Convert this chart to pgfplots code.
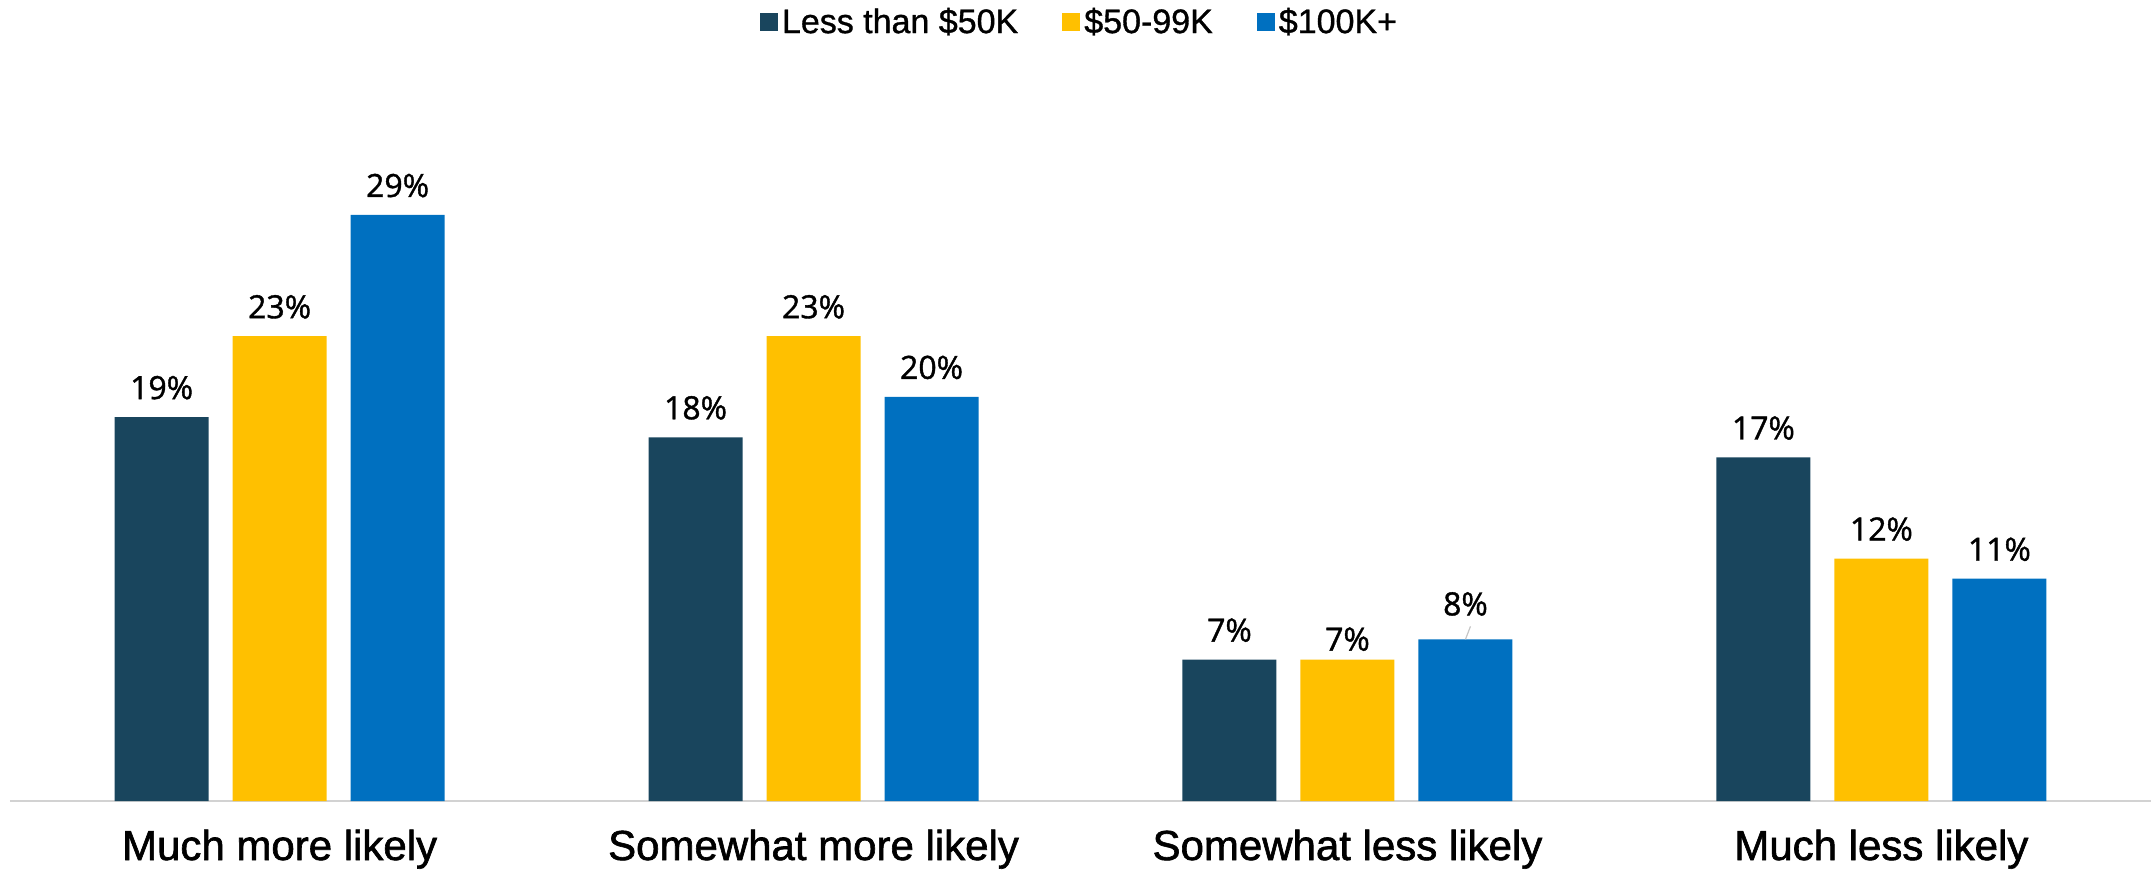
\documentclass[border=0pt]{standalone}
\usepackage{pgfplots}
\usepackage{pgfplotstable}
\pgfplotsset{compat=1.18}
\usepackage{fontspec}
\setmainfont{Liberation Sans}
\newfontfamily\labfont[FakeBold=1.2]{Open Sans}
\newfontfamily\catfont[FakeBold=1.5]{Liberation Sans}
\newfontfamily\legfont[FakeBold=1]{Liberation Sans}
\definecolor{cdark}{HTML}{19455D}
\definecolor{cyellow}{HTML}{FFC000}
\definecolor{cblue}{HTML}{0070C0}
\pgfplotstableread{
x y off
0 19 9
1 18 9
2 7 9
3 17 9
}\tdark
\pgfplotstableread{
x y off
0 23 9
1 23 9
2 7 4.5
3 12 9
}\tyellow
\pgfplotstableread{
x y off
0 29 9
1 20 9
2 8 12
3 11 9
}\tblue
\begin{document}
\begin{tikzpicture}
\begin{axis}[
  scale only axis,
  width=1070.5pt, height=370.5pt,
  xmin=-0.505, xmax=3.505,
  ymin=0, ymax=36.67,
  ybar=12pt, bar width=47pt,
  axis x line*=bottom,
  axis y line=none,
  axis line style={draw=gray!35, line width=1.3pt},
  xtick={0,1,2,3},
  xticklabels={Much more likely, Somewhat more likely, Somewhat less likely, Much less likely},
  major tick length=0pt,
  xticklabel style={anchor=base, yshift=-29.5pt, font=\catfont\fontsize{21}{25}\selectfont},
  ytick=\empty,
  /pgf/number format/assume math mode=true,
  nodes near coords={\pgfmathprintnumber{\pgfplotspointmeta}\%},
  visualization depends on={\thisrow{off} \as \myoff},
  nodes near coords style={anchor=base, yshift=\myoff pt, font=\labfont\fontsize{16}{19}\selectfont, text=black},
  legend style={at={(0.5,1)}, anchor=center, yshift=19pt, draw=none, fill=none,
    legend columns=-1, font=\legfont\fontsize{17}{20}\selectfont,
    /tikz/every even column/.append style={column sep=20pt}},
  legend image code/.code={\fill[#1] (0pt,-4.5pt) rectangle (9pt,4.5pt);},
]
\addplot[fill=cdark, draw=none] table[x=x,y=y] {\tdark};
\addplot[fill=cyellow, draw=none] table[x=x,y=y] {\tyellow};
\addplot[fill=cblue, draw=none] table[x=x,y=y] {\tblue};
\legend{Less than \$50K, \$50-99K, \$100K+}
\draw[gray!45, line width=0.6pt] ([xshift=59pt]axis cs:2,8) -- ++(2.5pt,6.5pt);
\coordinate (sw) at (rel axis cs:0,0);
\coordinate (ne) at (rel axis cs:1,1);
\end{axis}
\pgfresetboundingbox
\path[use as bounding box] ([xshift=-5pt,yshift=-35.5pt]sw) rectangle ([xshift=2pt,yshift=30pt]ne);
\end{tikzpicture}
\end{document}
